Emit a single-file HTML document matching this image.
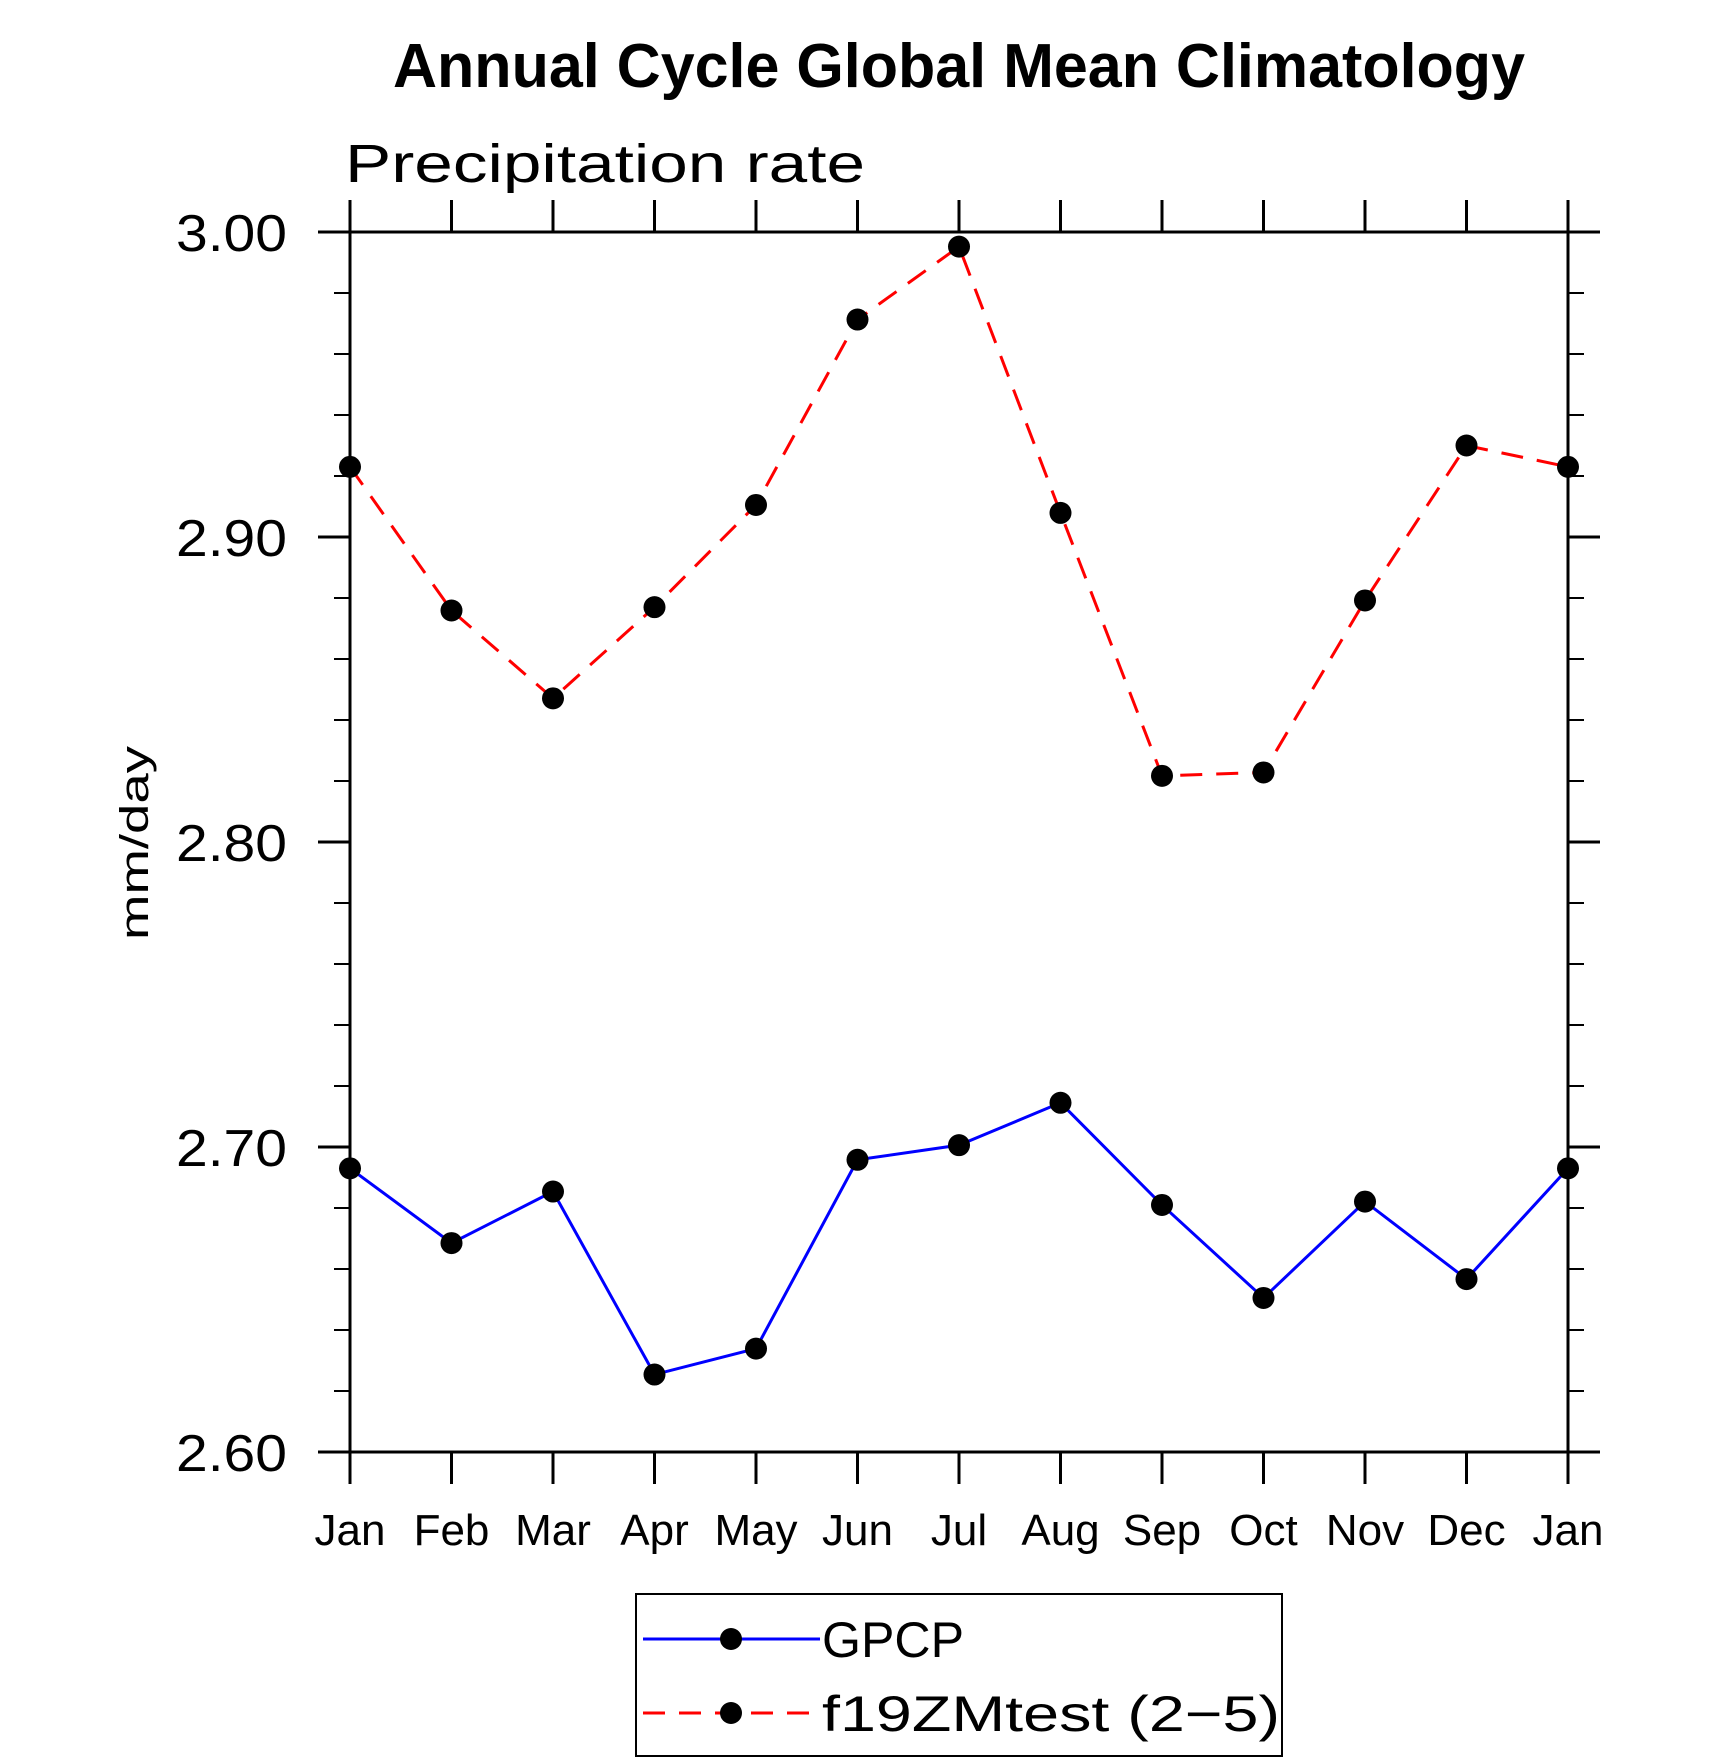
<!DOCTYPE html>
<html><head><meta charset="utf-8"><style>
html,body{margin:0;padding:0;background:#fff;}
svg{display:block;}
text{font-family:"Liberation Sans",sans-serif;fill:#000;}
</style></head><body>
<svg id="chart" width="1710" height="1762" viewBox="0 0 1710 1762" xmlns="http://www.w3.org/2000/svg">
<text x="959" y="87" text-anchor="middle" font-size="62" font-weight="bold" textLength="1132" lengthAdjust="spacingAndGlyphs">Annual Cycle Global Mean Climatology</text>
<text x="345" y="182" font-size="54" font-weight="normal" textLength="520" lengthAdjust="spacingAndGlyphs">Precipitation rate</text>
<text transform="translate(148,843) rotate(-90)" text-anchor="middle" font-size="40" textLength="194" lengthAdjust="spacingAndGlyphs">mm/day</text>
<g id="axes"></g>
<g id="series"></g>
<g>
  <rect x="636" y="1594" width="646" height="162" fill="none" stroke="#000" stroke-width="2"/>
  <g>
    <line x1="643" y1="1639" x2="820" y2="1639" stroke="#0000ff" stroke-width="3"/>
    <circle cx="731" cy="1639" r="11" fill="#000"/>
    <text x="822" y="1657" font-size="50" textLength="142" lengthAdjust="spacingAndGlyphs">GPCP</text>
  </g>
  <g>
    <line x1="643" y1="1713" x2="820" y2="1713" stroke="#ff0000" stroke-width="3" stroke-dasharray="22,14"/>
    <circle cx="731" cy="1713" r="11" fill="#000"/>
    <text x="822" y="1731" font-size="50" textLength="458" lengthAdjust="spacingAndGlyphs">f19ZMtest (2−5)</text>
  </g>
</g>
</svg>
<script>
const months = ["Jan","Feb","Mar","Apr","May","Jun","Jul","Aug","Sep","Oct","Nov","Dec","Jan"];
const gpcpValues = [2.693,2.6685,2.6854,2.6254,2.6339,2.6958,2.7006,2.7145,2.681,2.6505,2.6821,2.6567,2.693];
const testValues = [2.923,2.8759,2.8471,2.877,2.9105,2.9713,2.9952,2.9079,2.8217,2.8228,2.8792,2.93,2.923];
const yTickLabels = ["2.60","2.70","2.80","2.90","3.00"];
const yMajorValues = [2.6,2.7,2.8,2.9,3.0];

const L=350,R=1568,T=232,B=1452,YMIN=2.6,YMAX=3.0;
const xs=i=>L+(R-L)*i/(months.length-1);
const ys=v=>B-(v-YMIN)/(YMAX-YMIN)*(B-T);
const NS="http://www.w3.org/2000/svg";
function mk(tag,attrs,parent){const e=document.createElementNS(NS,tag);for(const k in attrs)e.setAttribute(k,attrs[k]);parent.appendChild(e);return e;}
const ax=document.getElementById('axes');
const fr=mk('rect',{x:L,y:T,width:R-L,height:B-T,fill:'none',stroke:'#000','stroke-width':3},ax);


mk('line',{x1:L-32,y1:T,x2:R+32,y2:T,stroke:'#000','stroke-width':3},ax);
mk('line',{x1:L-32,y1:B,x2:R+32,y2:B,stroke:'#000','stroke-width':3},ax);
months.forEach((m,i)=>{
  const x=xs(i);
  mk('line',{x1:x,y1:T-32,x2:x,y2:T,stroke:'#000','stroke-width':3},ax);
  mk('line',{x1:x,y1:B,x2:x,y2:B+32,stroke:'#000','stroke-width':3},ax);
  const t=mk('text',{x:x,y:1545,'text-anchor':'middle','font-size':44},ax);
  t.textContent=m;
  
  
});
for(let k=0;k<=20;k++){
  const v=YMIN+k*0.02, y=ys(v);
  const major=k%5===0;
  const len=major?32:16;
  mk('line',{x1:L-len,y1:y,x2:L,y2:y,stroke:'#000','stroke-width':major?3:2},ax);
  mk('line',{x1:R,y1:y,x2:R+len,y2:y,stroke:'#000','stroke-width':major?3:2},ax);
}
yMajorValues.forEach((v,i)=>{
  const t=mk('text',{x:287,y:ys(v)+19,'text-anchor':'end','font-size':52,textLength:111,lengthAdjust:'spacingAndGlyphs'},ax);
  t.textContent=yTickLabels[i];
  
  
});
const sg=document.getElementById('series');
function series(vals,color,dash,name){
  const g=mk('g',{},sg);
  
  
  const pts=vals.map((v,i)=>xs(i)+','+ys(v)).join(' ');
  const pl=mk('polyline',{points:pts,fill:'none',stroke:color,'stroke-width':3,'stroke-dasharray':dash},g);
  
  
  vals.forEach((v,i)=>{
    const c=mk('circle',{cx:xs(i),cy:ys(v),r:11,fill:'#000'},g);
    
    
  });
}
series(testValues,'#ff0000','22,14','f19zmtest-series');
series(gpcpValues,'#0000ff','none','gpcp-series');
</script>
</body></html>
